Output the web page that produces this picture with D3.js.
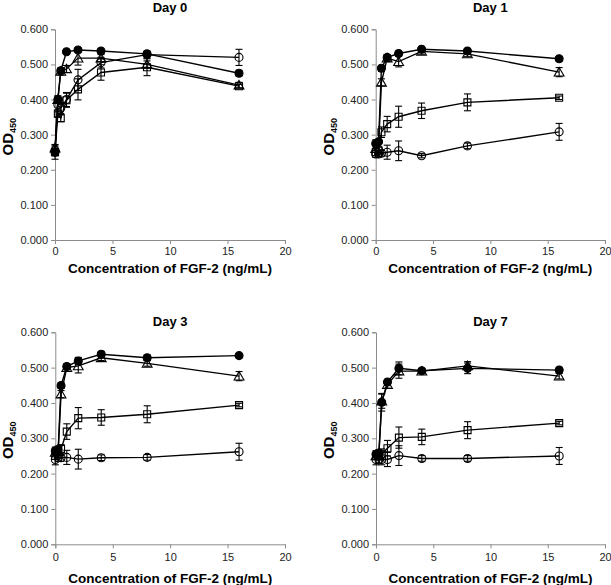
<!DOCTYPE html>
<html><head><meta charset="utf-8">
<script src="https://cdn.jsdelivr.net/npm/d3@7"></script>
<style>body{margin:0;background:#fff}svg{display:block}text{font-family:"Liberation Sans",Arial,sans-serif}</style>
</head><body>
<svg id="c" width="611" height="585"></svg>
<script>
// ---- DATA ----
const conc = [0, 0.25, 0.5, 1, 2, 4, 8, 16];
const dayTitles = ["Day 0", "Day 1", "Day 3", "Day 7"];
const yTicks = [0, 0.1, 0.2, 0.3, 0.4, 0.5, 0.6];
const xTicks = [0, 5, 10, 15, 20];
const xTitle = "Concentration of FGF-2 (ng/mL)";

// Day 0
const d0_fc  = [0.250, 0.400, 0.482, 0.536, 0.541, 0.538, 0.530, 0.475];
const d0_tri = [0.262, 0.400, 0.480, 0.487, 0.518, 0.518, 0.500, 0.441];
const d0_osq = [0.250, 0.360, 0.347, 0.398, 0.429, 0.477, 0.492, 0.438];
const d0_oci = [0.255, 0.385, 0.375, 0.400, 0.456, 0.505, 0.528, 0.520];
const d0_fc_e  = [0.010, 0.010, 0.005, 0.005, 0.005, 0.005, 0.005, 0.008];
const d0_tri_e = [0.010, 0.010, 0.010, 0.010, 0.020, 0.010, 0.010, 0.008];
const d0_osq_e = [0.020, 0.010, 0.010, 0.020, 0.030, 0.022, 0.024, 0.005];
const d0_oci_e = [0.010, 0.020, 0.015, 0.020, 0.030, 0.015, 0.010, 0.023];
// Day 1
const d1_fc  = [0.275, 0.280, 0.489, 0.520, 0.531, 0.543, 0.538, 0.516];
const d1_tri = [0.260, 0.265, 0.449, 0.518, 0.508, 0.537, 0.530, 0.478];
const d1_osq = [0.250, 0.255, 0.307, 0.330, 0.351, 0.368, 0.392, 0.405];
const d1_oci = [0.245, 0.245, 0.247, 0.250, 0.254, 0.240, 0.268, 0.308];
const d1_fc_e  = [0.010, 0.005, 0.008, 0.008, 0.005, 0.008, 0.006, 0.006];
const d1_tri_e = [0.010, 0.010, 0.010, 0.010, 0.015, 0.008, 0.008, 0.013];
const d1_osq_e = [0.010, 0.010, 0.015, 0.022, 0.030, 0.022, 0.024, 0.005];
const d1_oci_e = [0.010, 0.008, 0.008, 0.020, 0.028, 0.006, 0.008, 0.024];
// Day 3
const d3_fc  = [0.265, 0.268, 0.449, 0.503, 0.519, 0.538, 0.528, 0.534];
const d3_tri = [0.260, 0.262, 0.425, 0.500, 0.505, 0.528, 0.512, 0.476];
const d3_osq = [0.250, 0.255, 0.270, 0.319, 0.357, 0.359, 0.368, 0.394];
const d3_oci = [0.240, 0.245, 0.245, 0.246, 0.241, 0.245, 0.246, 0.262];
const d3_fc_e  = [0.010, 0.010, 0.008, 0.008, 0.010, 0.008, 0.008, 0.006];
const d3_tri_e = [0.010, 0.010, 0.010, 0.010, 0.020, 0.008, 0.008, 0.013];
const d3_osq_e = [0.010, 0.010, 0.012, 0.022, 0.030, 0.022, 0.024, 0.005];
const d3_oci_e = [0.015, 0.010, 0.010, 0.020, 0.028, 0.008, 0.008, 0.024];
// Day 7
const d7_fc  = [0.255, 0.258, 0.402, 0.459, 0.498, 0.491, 0.498, 0.493];
const d7_tri = [0.250, 0.252, 0.405, 0.452, 0.490, 0.490, 0.505, 0.476];
const d7_osq = [0.250, 0.250, 0.255, 0.272, 0.302, 0.304, 0.323, 0.343];
const d7_oci = [0.240, 0.240, 0.240, 0.240, 0.251, 0.243, 0.243, 0.250];
const d7_fc_e  = [0.010, 0.010, 0.025, 0.008, 0.018, 0.006, 0.015, 0.008];
const d7_tri_e = [0.010, 0.010, 0.020, 0.010, 0.020, 0.006, 0.012, 0.008];
const d7_osq_e = [0.010, 0.010, 0.015, 0.022, 0.030, 0.022, 0.024, 0.005];
const d7_oci_e = [0.015, 0.010, 0.015, 0.020, 0.028, 0.008, 0.008, 0.024];

// ---- LAYOUT ----
const panels = [
  {title: dayTitles[0], L: 55,    T: 29.3,  R: 285, B: 240,   titleY: 12,  tickY: 255, axY: 273,
   series: {oci:[d0_oci,d0_oci_e], osq:[d0_osq,d0_osq_e], tri:[d0_tri,d0_tri_e], fc:[d0_fc,d0_fc_e]}},
  {title: dayTitles[1], L: 375.7, T: 29.3,  R: 605, B: 240,   titleY: 12,  tickY: 255, axY: 273,
   series: {oci:[d1_oci,d1_oci_e], osq:[d1_osq,d1_osq_e], tri:[d1_tri,d1_tri_e], fc:[d1_fc,d1_fc_e]}},
  {title: dayTitles[2], L: 55.3,  T: 332.3, R: 285, B: 544.3, titleY: 326, tickY: 561, axY: 583,
   series: {oci:[d3_oci,d3_oci_e], osq:[d3_osq,d3_osq_e], tri:[d3_tri,d3_tri_e], fc:[d3_fc,d3_fc_e]}},
  {title: dayTitles[3], L: 376,   T: 332.3, R: 605, B: 544.3, titleY: 326, tickY: 561, axY: 583,
   series: {oci:[d7_oci,d7_oci_e], osq:[d7_osq,d7_osq_e], tri:[d7_tri,d7_tri_e], fc:[d7_fc,d7_fc_e]}}
];
const order = ["oci", "osq", "tri", "fc"];
const svg = d3.select("#c");
const axisCol = "#8c8c8c";

panels.forEach(p => {
  const x = d3.scaleLinear().domain([0, 20]).range([p.L, p.R]);
  const y = d3.scaleLinear().domain([0, 0.6]).range([p.B, p.T]);
  const g = svg.append("g");

  // axes
  const ya = g.append("g").attr("transform", `translate(${p.L},0)`)
    .call(d3.axisLeft(y).tickValues(yTicks).tickFormat(d3.format(".3f")).tickSize(4).tickPadding(3));
  const xa = g.append("g").attr("transform", `translate(0,${p.B})`)
    .call(d3.axisBottom(x).tickValues(xTicks).tickFormat(d3.format("d")).tickSize(4).tickPadding(3));
  [ya, xa].forEach(a => {
    a.selectAll("path").attr("stroke", axisCol).attr("stroke-width", 1);
    a.selectAll("line").attr("stroke", axisCol);
    a.selectAll("text").attr("font-size", 11).attr("fill", "#222")
      .attr("font-family", "Liberation Sans, Arial, sans-serif");
  });
  xa.selectAll("text").attr("y", p.tickY - p.B).attr("dy", 0);

  // titles
  g.append("text").attr("x", (p.L + p.R) / 2).attr("y", p.titleY).attr("text-anchor", "middle")
    .attr("font-size", 13).attr("font-weight", "bold").text(p.title);
  g.append("text").attr("x", (p.L + p.R) / 2).attr("y", p.axY).attr("text-anchor", "middle")
    .attr("font-size", 13.5).attr("font-weight", "bold").text(xTitle);
  const yl = g.append("text")
    .attr("transform", `translate(${p.L - 42},${(p.T + p.B) / 2 + 2}) rotate(-90)`)
    .attr("text-anchor", "middle").attr("font-size", 15).attr("font-weight", "bold");
  yl.append("tspan").text("OD");
  yl.append("tspan").attr("font-size", 9).attr("dy", 3).text("450");

  const line = d3.line().x(d => x(d[0])).y(d => y(d[1]));

  order.forEach(k => {
    const [vals, errs] = p.series[k];
    const pts = conc.map((c, i) => [c, vals[i], errs[i]]);
    const sg = g.append("g");
    sg.append("path").datum(pts).attr("d", line).attr("fill", "none")
      .attr("stroke", "#000").attr("stroke-width", 1.4);
    // error bars
    const eb = sg.selectAll("g.eb").data(pts).join("g");
    eb.append("line").attr("x1", d => x(d[0])).attr("x2", d => x(d[0]))
      .attr("y1", d => y(d[1] - d[2])).attr("y2", d => y(d[1] + d[2]))
      .attr("stroke", "#000").attr("stroke-width", 1.1);
    [-1, 1].forEach(s => {
      eb.append("line").attr("x1", d => x(d[0]) - 3.5).attr("x2", d => x(d[0]) + 3.5)
        .attr("y1", d => y(d[1] + s * d[2])).attr("y2", d => y(d[1] + s * d[2]))
        .attr("stroke", "#000").attr("stroke-width", 1.1);
    });
    // markers
    const sym = k === "tri" ? d3.symbolTriangle : (k === "osq" ? d3.symbolSquare : d3.symbolCircle);
    const size = k === "tri" ? 42 : (k === "osq" ? 49 : 50);
    sg.selectAll("path.m").data(pts).join("path").attr("class", "m")
      .attr("transform", d => `translate(${x(d[0])},${y(d[1]) + (k === "tri" ? 1 : 0)})`)
      .attr("d", d3.symbol().type(sym).size(size))
      .attr("fill", k === "fc" ? "#000" : "none")
      .attr("stroke", "#000").attr("stroke-width", 1.1);
  });
});
</script>
</body></html>
